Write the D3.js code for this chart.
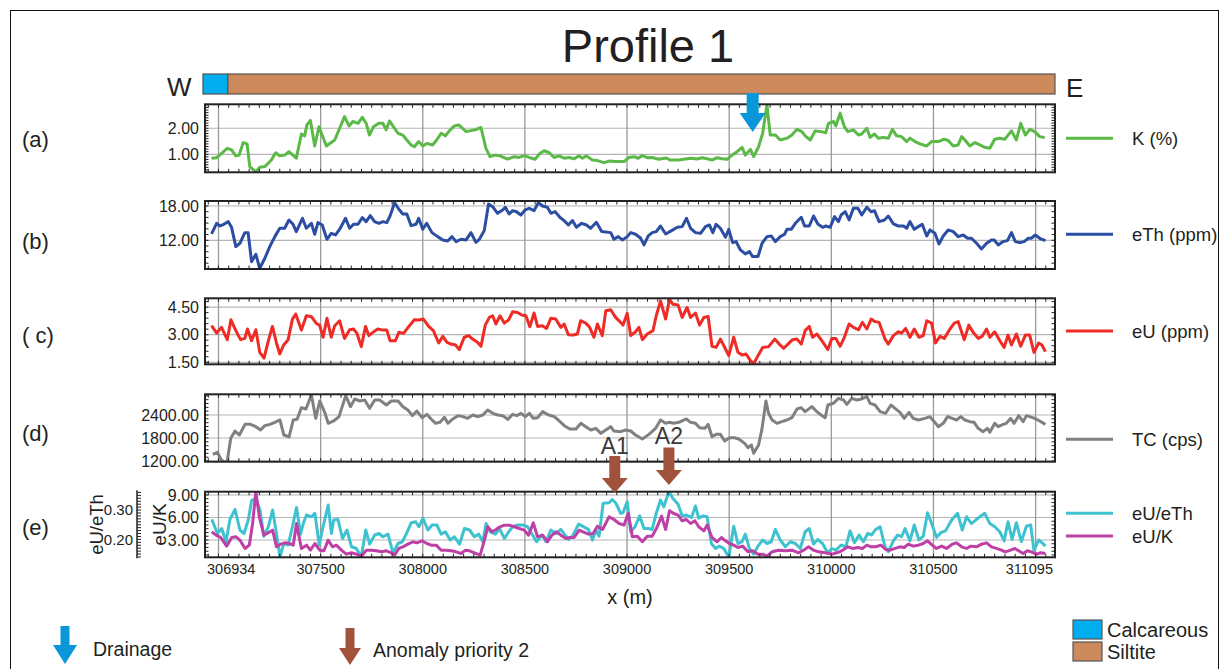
<!DOCTYPE html>
<html><head><meta charset="utf-8">
<script src="https://cdn.jsdelivr.net/npm/d3@7"></script>
<style>body{margin:0;background:#fff}svg{display:block}text{font-family:"Liberation Sans",Arial,sans-serif}</style>
</head><body><svg id="c" width="1226" height="669"></svg>
<script>
// ---------------- DATA ----------------
const titleText = "Profile 1";
const xDomain = [306934, 311095];
const xTickValues = [307000, 307500, 308000, 308500, 309000, 309500, 310000, 310500, 311000];
const xTickLabels = ["306934", "307500", "308000", "308500", "309000", "309500", "310000", "310500", "311095"];
const lithology = [{name: "Calcareous", from: 306924, to: 307046}, {name: "Siltite", from: 307046, to: 311095}];
const anomalies = [{label: "A1", x: 308940}, {label: "A2", x: 309205}];
const drainage = [309615];

const kDomain = [0.31, 2.92], kTicks = [1, 2];
const eThDomain = [6.98, 18.87], eThTicks = [12, 18];
const eUDomain = [1.39, 4.98], eUTicks = [1.5, 3, 4.5];
const tcDomain = [1182, 2940], tcTicks = [1200, 1800, 2400];
const eUKDomain = [0.69, 9.44], eUKTicks = [3, 6, 9];
const eUeThDomain = [0.139, 0.3625], eUeThTicks = [0.2, 0.3];

const kData = [[306966,0.85],[306991,0.87],[307015,1.04],[307043,1.23],[307064,1.17],[307085,0.94],[307101,0.97],[307121,1.45],[307140,1.40],[307153,0.53],[307183,0.33],[307202,0.50],[307227,0.53],[307259,0.78],[307280,1.06],[307300,0.94],[307324,0.97],[307345,1.10],[307381,0.85],[307406,1.78],[307422,1.71],[307433,2.13],[307450,2.30],[307471,1.32],[307492,2.06],[307528,1.32],[307569,1.55],[307590,1.94],[307617,2.45],[307639,2.09],[307658,2.26],[307683,2.19],[307704,2.42],[307723,2.19],[307739,1.74],[307759,2.06],[307785,2.19],[307805,2.19],[307821,1.94],[307837,2.28],[307862,2.00],[307878,1.81],[307902,1.74],[307922,1.55],[307943,1.36],[307959,1.29],[307980,1.49],[308000,1.32],[308019,1.42],[308049,1.36],[308068,1.55],[308090,1.81],[308111,1.71],[308130,1.90],[308155,2.09],[308176,2.13],[308195,2.00],[308212,1.87],[308236,1.91],[308257,1.94],[308285,2.03],[308309,1.23],[308329,0.91],[308355,0.97],[308378,0.94],[308415,0.82],[308448,0.91],[308472,0.88],[308497,0.95],[308521,0.88],[308550,0.81],[308570,1.01],[308594,1.14],[308619,1.06],[308643,0.88],[308667,0.94],[308692,0.85],[308716,0.88],[308741,0.83],[308765,0.94],[308781,0.85],[308801,0.94],[308830,0.78],[308855,0.76],[308887,0.68],[308912,0.74],[308944,0.72],[308985,0.72],[309010,0.88],[309034,0.91],[309055,0.85],[309075,0.95],[309099,0.87],[309123,0.88],[309156,0.81],[309189,0.86],[309213,0.78],[309254,0.78],[309286,0.82],[309311,0.85],[309343,0.82],[309368,0.87],[309392,0.83],[309416,0.78],[309441,0.87],[309465,0.83],[309490,0.81],[309514,0.97],[309539,1.10],[309563,1.27],[309579,0.97],[309604,1.19],[309620,0.91],[309644,1.29],[309664,1.81],[309685,2.90],[309701,1.74],[309726,1.74],[309750,1.55],[309783,1.62],[309807,1.74],[309832,1.96],[309856,1.87],[309872,1.71],[309897,1.55],[309921,1.90],[309950,1.87],[309973,1.83],[309986,2.19],[310011,2.26],[310022,2.09],[310043,2.58],[310064,2.06],[310081,1.87],[310108,1.94],[310133,1.74],[310149,1.78],[310174,2.00],[310190,1.65],[310211,1.78],[310230,1.62],[310255,1.65],[310279,1.62],[310299,1.96],[310320,1.71],[310344,1.68],[310369,1.49],[310385,1.62],[310410,1.49],[310434,1.40],[310467,1.32],[310491,1.49],[310524,1.49],[310553,1.58],[310572,1.53],[310597,1.32],[310621,1.36],[310638,1.68],[310654,1.55],[310678,1.32],[310703,1.45],[310727,1.36],[310751,1.27],[310776,1.23],[310800,1.58],[310825,1.62],[310849,1.58],[310882,1.90],[310906,1.55],[310927,2.19],[310950,1.74],[310971,1.96],[310996,1.87],[311020,1.68],[311045,1.64]];

const eThData = [[306966,13.11],[306991,14.97],[307007,14.5],[307026,14.8],[307048,15.26],[307064,14.27],[307085,10.9],[307105,11.48],[307129,13.34],[307145,13.34],[307162,8.27],[307183,9.56],[307202,7.1],[307227,8.86],[307251,10.9],[307276,12.64],[307300,14.1],[307324,14.1],[307345,15.55],[307365,14.8],[307381,13.52],[307411,15.85],[307430,14.1],[307455,14.97],[307471,13.05],[307487,15.09],[307508,14.68],[307531,12.18],[307552,13.22],[307573,12.93],[307596,14.1],[307622,15.85],[307642,14.1],[307661,14.8],[307683,14.8],[307704,15.96],[307723,15.26],[307743,16.31],[307764,15.26],[307785,14.97],[307805,15.26],[307824,15.09],[307840,16.25],[307862,18.58],[307883,17.42],[307902,16.6],[307922,16.6],[307943,14.56],[307967,14.8],[307980,15.85],[308000,13.92],[308019,14.97],[308045,13.34],[308073,12.64],[308098,12.06],[308122,11.88],[308143,12.64],[308163,11.77],[308187,12.18],[308212,12.06],[308236,13.34],[308260,11.65],[308277,12.18],[308301,13.69],[308322,18.35],[308342,17.88],[308366,16.72],[308391,17.3],[308404,17.77],[308423,16.6],[308440,17.18],[308459,17.0],[308480,16.43],[308501,17.3],[308521,17.59],[308545,17.18],[308566,18.58],[308586,18.0],[308610,17.77],[308627,16.72],[308648,17.01],[308671,16.02],[308692,15.44],[308713,14.68],[308733,15.44],[308752,14.27],[308778,14.97],[308801,14.68],[308822,14.1],[308850,15.15],[308876,13.52],[308920,13.34],[308936,12.18],[308957,12.64],[308977,12.06],[309001,12.64],[309018,13.34],[309042,13.05],[309067,12.35],[309083,11.19],[309104,12.76],[309123,13.34],[309143,13.52],[309164,14.5],[309189,13.11],[309218,13.69],[309246,14.27],[309270,14.39],[309291,15.85],[309311,14.1],[309335,13.34],[309360,13.22],[309384,14.39],[309403,14.68],[309420,13.34],[309436,14.8],[309457,14.1],[309482,12.53],[309498,13.92],[309517,11.59],[309534,11.77],[309555,10.31],[309579,9.61],[309599,10.02],[309615,9.15],[309641,9.15],[309661,11.48],[309685,12.64],[309706,12.76],[309726,11.77],[309750,12.64],[309771,13.05],[309783,13.92],[309804,13.92],[309824,14.97],[309853,16.02],[309869,14.5],[309892,14.5],[309913,16.25],[309934,14.86],[309957,14.27],[309973,14.5],[309994,14.27],[310016,16.14],[310035,15.26],[310048,16.43],[310068,17.0],[310087,15.55],[310108,17.59],[310130,17.59],[310149,16.43],[310174,17.77],[310195,17.0],[310211,17.18],[310234,15.26],[310260,15.55],[310279,16.25],[310304,14.86],[310328,14.5],[310353,14.5],[310369,14.1],[310385,15.26],[310406,13.92],[310426,14.39],[310445,14.8],[310467,12.76],[310483,13.81],[310507,13.22],[310527,11.36],[310548,12.76],[310572,13.81],[310597,13.52],[310621,12.64],[310646,12.93],[310667,12.35],[310686,12.35],[310711,11.48],[310735,10.49],[310760,11.48],[310784,12.06],[310797,12.06],[310817,11.19],[310841,11.77],[310862,11.94],[310882,13.34],[310901,11.77],[310922,11.59],[310944,11.77],[310963,12.35],[310979,12.35],[310999,12.93],[311020,12.35],[311048,11.94]];

const eUData = [[306966,3.49],[306991,3.09],[307015,3.4],[307043,2.73],[307061,3.81],[307085,3.22],[307108,2.73],[307129,2.8],[307142,3.31],[307162,2.67],[307183,3.27],[307202,2.04],[307223,1.73],[307243,2.62],[307264,3.45],[307284,2.55],[307300,1.95],[307319,2.44],[307341,2.73],[307362,3.85],[307378,4.12],[307406,3.25],[307430,4.03],[307455,3.98],[307479,3.61],[307495,3.52],[307512,2.86],[307531,3.89],[307552,2.86],[307569,3.49],[307593,3.76],[307617,2.8],[307642,3.27],[307661,3.31],[307678,3.07],[307699,2.35],[307720,3.45],[307736,2.95],[307756,3.13],[307780,3.31],[307805,3.25],[307824,3.25],[307840,2.67],[307866,2.67],[307883,3.13],[307906,3.07],[307932,3.45],[307959,3.81],[307980,3.8],[308003,3.85],[308029,3.45],[308052,3.22],[308078,2.55],[308098,2.91],[308119,2.58],[308138,2.49],[308160,2.44],[308179,2.19],[308203,2.86],[308225,2.95],[308244,2.76],[308269,2.58],[308285,2.37],[308306,3.52],[308326,3.94],[308342,4.03],[308358,3.58],[308378,4.03],[308399,3.63],[308420,3.8],[308440,4.25],[308464,4.21],[308485,4.07],[308505,4.03],[308524,3.43],[308545,4.18],[308562,3.45],[308586,3.49],[308606,3.34],[308627,3.89],[308651,3.85],[308676,3.4],[308692,3.58],[308713,3.0],[308736,2.98],[308757,3.04],[308773,3.76],[308798,3.63],[308817,3.4],[308838,2.86],[308855,3.58],[308879,2.95],[308896,4.30],[308920,4.36],[308944,3.94],[308969,3.67],[308980,3.52],[309001,4.16],[309018,2.95],[309039,3.13],[309058,3.4],[309075,2.73],[309099,3.04],[309127,3.22],[309143,4.03],[309164,4.84],[309189,3.85],[309208,4.93],[309224,4.66],[309250,4.61],[309270,3.94],[309294,4.48],[309311,3.94],[309335,4.18],[309355,3.52],[309376,3.94],[309397,3.99],[309416,2.37],[309436,2.31],[309457,2.76],[309474,2.4],[309498,1.86],[309522,2.86],[309543,2.04],[309563,1.9],[309583,1.95],[309604,1.59],[309620,1.42],[309641,1.86],[309664,2.31],[309693,2.35],[309723,2.76],[309745,2.49],[309767,2.26],[309788,2.49],[309810,2.73],[309832,2.76],[309853,2.49],[309872,3.22],[309892,3.45],[309908,2.86],[309929,3.04],[309954,2.67],[309983,2.19],[310003,2.8],[310022,2.8],[310043,2.37],[310064,2.86],[310087,3.58],[310108,3.4],[310133,3.27],[310152,3.67],[310174,3.31],[310195,3.85],[310214,3.71],[310234,3.67],[310263,2.76],[310279,2.49],[310304,2.95],[310328,3.16],[310344,3.09],[310364,3.34],[310385,2.86],[310406,3.31],[310429,2.86],[310450,2.95],[310467,3.76],[310491,3.63],[310510,2.55],[310532,2.91],[310553,2.8],[310581,3.31],[310602,3.63],[310621,3.71],[310651,2.73],[310673,3.52],[310694,3.13],[310719,2.8],[310738,2.91],[310760,3.31],[310776,2.86],[310800,3.16],[310825,2.67],[310846,2.31],[310865,2.98],[310882,2.44],[310906,3.04],[310927,2.37],[310950,2.98],[310971,2.98],[310992,2.04],[311015,2.55],[311031,2.44],[311048,2.08]];

const tcData = [[306972,1373],[306995,1426],[307011,1252],[307027,1165],[307043,1199],[307060,1791],[307081,1982],[307102,1878],[307130,2156],[307157,2156],[307183,2095],[307206,2008],[307227,2122],[307252,2156],[307276,2209],[307301,2270],[307320,1878],[307346,1834],[307366,2270],[307385,2287],[307406,2591],[307428,2557],[307455,2922],[307476,2313],[307496,2765],[307520,2470],[307537,2183],[307564,2244],[307590,2357],[307623,2905],[307646,2618],[307667,2818],[307691,2765],[307716,2792],[307740,2574],[307765,2792],[307789,2792],[307822,2661],[307846,2765],[307879,2765],[307903,2618],[307927,2531],[307949,2383],[307971,2504],[307997,2330],[308020,2417],[308041,2296],[308063,2183],[308085,2209],[308106,2339],[308123,2183],[308147,2296],[308172,2383],[308196,2357],[308220,2313],[308245,2400],[308269,2357],[308294,2400],[308318,2531],[308343,2444],[308367,2400],[308391,2383],[308416,2287],[308440,2417],[308460,2383],[308481,2444],[308502,2357],[308522,2444],[308541,2313],[308562,2330],[308587,2487],[308616,2400],[308644,2357],[308668,2244],[308693,2122],[308720,2035],[308750,2035],[308774,2183],[308798,2095],[308823,2008],[308847,2052],[308872,1922],[308896,2008],[308920,2095],[308936,1982],[308969,1965],[308993,2008],[309018,1982],[309042,1878],[309075,1774],[309107,1895],[309140,2052],[309164,2270],[309189,2183],[309205,2209],[309229,2183],[309254,2209],[309290,2296],[309311,2209],[309335,2183],[309355,2070],[309381,2052],[309397,2156],[309416,1834],[309436,1895],[309457,1895],[309478,1721],[309501,1808],[309527,1808],[309547,1774],[309576,1661],[309592,1547],[309609,1617],[309620,1400],[309644,1617],[309661,2052],[309680,2765],[309693,2444],[309710,2270],[309734,2183],[309758,2226],[309783,2270],[309807,2330],[309832,2557],[309853,2591],[309872,2487],[309905,2618],[309929,2487],[309950,2400],[309970,2330],[309983,2661],[310011,2705],[310035,2835],[310060,2792],[310076,2678],[310100,2835],[310125,2792],[310149,2818],[310174,2879],[310190,2705],[310214,2661],[310239,2487],[310266,2444],[310292,2661],[310312,2574],[310336,2470],[310357,2313],[310380,2470],[310401,2313],[310426,2270],[310458,2313],[310483,2357],[310504,2226],[310524,2095],[310548,2183],[310569,2357],[310592,2313],[310613,2270],[310634,2357],[310654,2270],[310678,2226],[310699,2209],[310719,2052],[310743,1965],[310764,2052],[310776,1948],[310800,2183],[310817,2095],[310841,2156],[310857,2183],[310878,2313],[310895,2183],[310917,2383],[310939,2226],[310955,2383],[310971,2357],[310996,2313],[311020,2244],[311048,2156]];

const eUeThData = [[306967,0.268],[306995,0.220],[307016,0.237],[307037,0.192],[307056,0.268],[307081,0.302],[307105,0.232],[307125,0.220],[307146,0.266],[307162,0.332],[307183,0.340],[307203,0.300],[307222,0.211],[307244,0.243],[307265,0.300],[307281,0.232],[307301,0.141],[307320,0.186],[307341,0.181],[307362,0.243],[307382,0.309],[307402,0.218],[307415,0.254],[307431,0.283],[307455,0.277],[307472,0.289],[307493,0.181],[307512,0.243],[307537,0.317],[307553,0.220],[307564,0.266],[307585,0.268],[307607,0.203],[307629,0.232],[307651,0.175],[307675,0.169],[307699,0.141],[307721,0.232],[307740,0.184],[307765,0.215],[307786,0.220],[307805,0.209],[307830,0.218],[307854,0.154],[307879,0.186],[307900,0.192],[307919,0.218],[307944,0.257],[307965,0.260],[307981,0.243],[308001,0.272],[308025,0.232],[308046,0.249],[308069,0.249],[308090,0.218],[308111,0.226],[308134,0.198],[308155,0.209],[308180,0.184],[308204,0.237],[308229,0.232],[308253,0.209],[308274,0.218],[308294,0.192],[308310,0.254],[308330,0.226],[308356,0.218],[308375,0.237],[308400,0.203],[308421,0.226],[308440,0.243],[308465,0.249],[308489,0.249],[308513,0.243],[308538,0.215],[308557,0.192],[308583,0.215],[308603,0.192],[308627,0.232],[308652,0.220],[308676,0.234],[308693,0.218],[308714,0.200],[308733,0.211],[308763,0.252],[308782,0.245],[308811,0.234],[308831,0.198],[308847,0.232],[308863,0.211],[308883,0.323],[308912,0.325],[308928,0.336],[308944,0.325],[308969,0.289],[308980,0.291],[309001,0.328],[309018,0.226],[309039,0.243],[309062,0.280],[309083,0.237],[309104,0.237],[309123,0.234],[309143,0.289],[309164,0.334],[309180,0.311],[309205,0.363],[309224,0.340],[309250,0.320],[309270,0.280],[309290,0.283],[309316,0.275],[309335,0.314],[309351,0.272],[309371,0.280],[309392,0.277],[309413,0.186],[309433,0.169],[309452,0.177],[309474,0.169],[309498,0.139],[309522,0.245],[309543,0.186],[309563,0.192],[309579,0.218],[309599,0.169],[309620,0.150],[309641,0.177],[309664,0.198],[309685,0.186],[309706,0.192],[309726,0.234],[309750,0.198],[309775,0.175],[309799,0.192],[309824,0.186],[309848,0.169],[309872,0.226],[309892,0.237],[309913,0.184],[309934,0.200],[309957,0.186],[309983,0.154],[310003,0.169],[310022,0.163],[310048,0.181],[310071,0.175],[310092,0.229],[310113,0.189],[310136,0.215],[310157,0.192],[310178,0.220],[310198,0.215],[310214,0.232],[310239,0.243],[310263,0.175],[310279,0.158],[310304,0.195],[310325,0.215],[310344,0.209],[310361,0.237],[310385,0.195],[310406,0.249],[310429,0.198],[310450,0.211],[310471,0.291],[310491,0.254],[310515,0.207],[310536,0.223],[310559,0.229],[310589,0.266],[310618,0.289],[310641,0.232],[310662,0.277],[310686,0.254],[310711,0.268],[310732,0.280],[310751,0.289],[310776,0.254],[310800,0.243],[310825,0.226],[310846,0.195],[310865,0.260],[310885,0.200],[310906,0.257],[310930,0.192],[310955,0.245],[310976,0.249],[310992,0.163],[311015,0.198],[311031,0.189],[311048,0.177]];

const eUKData = [[306967,4.09],[306988,3.64],[307011,3.33],[307040,2.18],[307065,3.33],[307086,3.42],[307105,2.98],[307130,1.87],[307151,2.31],[307167,5.2],[307183,9.42],[307200,6.09],[307222,3.64],[307244,3.96],[307265,4.31],[307284,2.09],[307304,2.44],[307325,2.62],[307346,2.53],[307366,2.31],[307382,5.2],[307406,1.87],[307431,2.31],[307450,1.64],[307472,2.53],[307496,1.64],[307516,1.56],[307537,2.98],[307558,2.09],[307577,2.31],[307602,1.64],[307626,1.11],[307651,1.29],[307675,1.11],[307699,0.84],[307724,1.64],[307748,1.64],[307773,1.56],[307797,1.42],[307822,1.56],[307846,1.29],[307862,0.98],[307883,1.87],[307903,2.09],[307927,2.44],[307952,2.76],[307971,2.62],[307997,2.89],[308020,2.53],[308041,2.31],[308066,2.31],[308090,1.64],[308115,1.64],[308139,1.56],[308163,1.42],[308188,1.2],[308209,1.64],[308229,1.56],[308253,1.29],[308281,0.98],[308302,2.98],[308318,4.76],[308339,4.09],[308359,4.4],[308378,4.76],[308400,4.98],[308424,4.98],[308448,4.76],[308473,4.53],[308497,4.31],[308518,3.64],[308541,5.29],[308562,3.42],[308587,3.64],[308611,2.76],[308632,3.64],[308655,4.09],[308676,3.64],[308701,3.2],[308720,3.33],[308741,3.33],[308766,4.31],[308785,4.09],[308811,3.78],[308834,3.87],[308855,4.84],[308880,4.4],[308912,6.09],[308936,5.73],[308961,5.2],[308985,4.98],[309006,6.53],[309026,3.42],[309050,3.51],[309075,2.76],[309099,3.51],[309123,3.51],[309148,4.76],[309169,6.18],[309189,4.4],[309208,6.89],[309229,6.53],[309250,6.31],[309270,5.56],[309290,5.73],[309311,5.2],[309332,5.56],[309351,4.76],[309376,4.22],[309392,4.98],[309416,3.33],[309441,2.76],[309462,3.33],[309482,2.89],[309501,2.53],[309522,2.31],[309543,2.0],[309566,2.18],[309592,1.42],[309615,1.56],[309641,1.11],[309664,1.11],[309685,0.84],[309710,1.42],[309742,1.64],[309775,1.56],[309807,1.64],[309840,1.29],[309864,1.64],[309889,2.09],[309913,1.64],[309937,1.42],[309970,1.29],[310003,1.11],[310027,1.29],[310051,1.56],[310081,2.09],[310104,1.87],[310130,2.0],[310152,1.87],[310174,2.31],[310195,2.09],[310217,2.09],[310243,2.31],[310266,1.73],[310287,1.64],[310312,1.87],[310336,2.09],[310357,2.0],[310377,2.44],[310401,2.18],[310426,2.31],[310450,2.53],[310471,2.89],[310494,2.31],[310515,1.87],[310540,2.18],[310564,1.87],[310592,2.44],[310613,2.62],[310638,2.09],[310662,1.87],[310683,2.18],[310711,2.09],[310735,2.44],[310760,2.62],[310784,2.09],[310808,1.87],[310833,1.64],[310852,1.42],[310878,1.64],[310898,1.87],[310917,1.56],[310939,1.2],[310960,1.56],[310979,1.42],[311004,1.11],[311025,1.29],[311048,1.2]];

// ---------------- STYLE / LAYOUT ----------------
const C = {k:"#5BB947", eTh:"#2B4EA2", eU:"#EE2B25", tc:"#808080", eUeTh:"#3FC2CF", eUK:"#BE3FA6",
  calc:"#00ADEE", silt:"#CD8B5D", drain:"#0A97D9", anom:"#A0523A"};
const lithColors = {Calcareous: C.calc, Siltite: C.silt};
const svg = d3.select("#c");
const x = d3.scaleLinear().domain(xDomain).range([205, 1055]);
const X0 = 205, X1 = 1055;

svg.append("rect").attr("x", 10.5).attr("y", 10.5).attr("width", 1208).attr("height", 720)
  .attr("fill", "none").attr("stroke", "#111").attr("stroke-width", 1);

svg.append("text").attr("x", 648).attr("y", 62).attr("text-anchor", "middle")
  .attr("font-size", 47).attr("fill", "#231f20").text(titleText);
svg.append("text").attr("x", 167).attr("y", 96).attr("font-size", 26).attr("fill", "#231f20").text("W");
svg.append("text").attr("x", 1066).attr("y", 97).attr("font-size", 26).attr("fill", "#231f20").text("E");

// lithology bar
svg.append("g").selectAll("rect").data(lithology).join("rect")
  .attr("x", d => x(d.from)).attr("y", 74).attr("width", d => x(d.to) - x(d.from)).attr("height", 20)
  .attr("fill", d => lithColors[d.name]).attr("stroke", "#555").attr("stroke-width", 1.2);

const panels = [
  {label:"(a)", top:104.3, bottom:172.3, domain:kDomain, ticks:kTicks, minor:0.1,
   series:[{data:kData, color:C.k}], legend:[{text:"K (%)", color:C.k, y:138.3}], ly:139},
  {label:"(b)", top:201, bottom:269, domain:eThDomain, ticks:eThTicks, minor:1,
   series:[{data:eThData, color:C.eTh}], legend:[{text:"eTh (ppm)", color:C.eTh, y:234.3}], ly:241},
  {label:"( c)", top:298.3, bottom:364.3, domain:eUDomain, ticks:eUTicks, minor:0.3,
   series:[{data:eUData, color:C.eU}], legend:[{text:"eU (ppm)", color:C.eU, y:331}], ly:335},
  {label:"(d)", top:394.3, bottom:461.7, domain:tcDomain, ticks:tcTicks, minor:100,
   series:[{data:tcData, color:C.tc}], legend:[{text:"TC (cps)", color:C.tc, y:439.3}], ly:433},
  {label:"(e)", top:491.7, bottom:557.3, domain:eUKDomain, ticks:eUKTicks, minor:0.5,
   series:[{data:eUeThData, color:C.eUeTh, alt:true}, {data:eUKData, color:C.eUK}],
   legend:[{text:"eU/eTh", color:C.eUeTh, y:513.3}, {text:"eU/K", color:C.eUK, y:536}], ly:527}
];

const fmt = d3.format(".2f");
const minorX = d3.range(306950, 311095, 50);

panels.forEach((p, i) => {
  const y = d3.scaleLinear().domain(p.domain).range([p.bottom, p.top]);
  const yAlt = d3.scaleLinear().domain(eUeThDomain).range([p.bottom, p.top]);
  const g = svg.append("g");
  const clipId = "clip" + i;
  svg.append("clipPath").attr("id", clipId).append("rect")
    .attr("x", X0).attr("y", p.top).attr("width", X1 - X0).attr("height", p.bottom - p.top);
  g.append("rect").attr("x", X0).attr("y", p.top).attr("width", X1 - X0).attr("height", p.bottom - p.top).attr("fill", "#fff");
  g.selectAll(".hg").data(p.ticks).join("line")
    .attr("x1", X0).attr("x2", X1).attr("y1", d => y(d)).attr("y2", d => y(d))
    .attr("stroke", "#b5b5b5").attr("stroke-width", 1.2);
  g.selectAll(".vg").data(xTickValues).join("line")
    .attr("x1", d => x(d)).attr("x2", d => x(d)).attr("y1", p.top).attr("y2", p.bottom)
    .attr("stroke", "#9a9a9a").attr("stroke-width", 1.3);
  const lg = g.append("g").attr("clip-path", `url(#${clipId})`);
  p.series.forEach(s => {
    const ys = s.alt ? yAlt : y;
    const line = d3.line().x(d => x(d[0])).y(d => ys(d[1]));
    lg.append("path").datum(s.data).attr("d", line).attr("fill", "none")
      .attr("stroke", s.color).attr("stroke-width", 3).attr("stroke-linejoin", "round");
  });
  g.selectAll(".mt").data(minorX).join("line")
    .attr("x1", d => x(d)).attr("x2", d => x(d)).attr("y1", p.top).attr("y2", p.top + 3.5)
    .attr("stroke", "#222").attr("stroke-width", 1);
  g.selectAll(".mb").data(minorX).join("line")
    .attr("x1", d => x(d)).attr("x2", d => x(d)).attr("y1", p.bottom).attr("y2", p.bottom - 3.5)
    .attr("stroke", "#222").attr("stroke-width", 1);
  const ym = d3.range(Math.ceil(p.domain[0] / p.minor) * p.minor, p.domain[1], p.minor);
  g.selectAll(".ml").data(ym).join("line")
    .attr("x1", X0).attr("x2", X0 + 3.5).attr("y1", d => y(d)).attr("y2", d => y(d))
    .attr("stroke", "#222").attr("stroke-width", 1);
  g.selectAll(".mr").data(ym).join("line")
    .attr("x1", X1).attr("x2", X1 - 3.5).attr("y1", d => y(d)).attr("y2", d => y(d))
    .attr("stroke", "#222").attr("stroke-width", 1);
  g.append("rect").attr("x", X0).attr("y", p.top).attr("width", X1 - X0).attr("height", p.bottom - p.top)
    .attr("fill", "none").attr("stroke", "#222").attr("stroke-width", 2);
  g.selectAll(".yl").data(p.ticks).join("text")
    .attr("x", 199).attr("y", d => y(d)).attr("dy", "0.36em").attr("text-anchor", "end")
    .attr("font-size", 16).attr("fill", "#231f20").text(d => fmt(d));
  svg.append("text").attr("x", 22).attr("y", p.ly).attr("dy", "0.36em")
    .attr("font-size", 22).attr("fill", "#231f20").text(p.label);
  p.legend.forEach(l => {
    svg.append("line").attr("x1", 1066).attr("x2", 1113).attr("y1", l.y).attr("y2", l.y)
      .attr("stroke", l.color).attr("stroke-width", 3);
    svg.append("text").attr("x", 1132).attr("y", l.y).attr("dy", "0.36em")
      .attr("font-size", 18.5).attr("fill", "#231f20").text(l.text);
  });
  if (i === 4) {
    g.selectAll(".xl").data(xTickValues).join("text")
      .attr("x", (d, j) => j === 0 ? X0 + 2 : j === xTickValues.length - 1 ? X1 - 2 : x(d))
      .attr("y", 574)
      .attr("text-anchor", (d, j) => j === 0 ? "start" : j === xTickValues.length - 1 ? "end" : "middle")
      .attr("font-size", 14.5).attr("fill", "#231f20").text((d, j) => xTickLabels[j]);
    svg.append("text").attr("transform", `translate(166,${(p.top + p.bottom) / 2}) rotate(-90)`)
      .attr("text-anchor", "middle").attr("font-size", 19).attr("fill", "#231f20").text("eU/K");
    const ax = 137;
    svg.append("line").attr("x1", ax).attr("x2", ax).attr("y1", p.top - 1.5).attr("y2", p.bottom + 1)
      .attr("stroke", "#222").attr("stroke-width", 1.5);
    const am = d3.range(0.14, 0.3625, 0.01);
    svg.append("g").selectAll("line").data(am).join("line")
      .attr("x1", ax).attr("x2", ax + 4).attr("y1", d => yAlt(d)).attr("y2", d => yAlt(d))
      .attr("stroke", "#222").attr("stroke-width", 1);
    svg.append("g").selectAll("text").data(eUeThTicks).join("text")
      .attr("x", 133).attr("y", d => yAlt(d)).attr("dy", "0.36em").attr("text-anchor", "end")
      .attr("font-size", 15).attr("fill", "#231f20").text(d => fmt(d));
    svg.append("text").attr("transform", `translate(103,${(p.top + p.bottom) / 2}) rotate(-90)`)
      .attr("text-anchor", "middle").attr("font-size", 18.5).attr("fill", "#231f20").text("eU/eTh");
  }
});

svg.append("text").attr("x", 630).attr("y", 604).attr("text-anchor", "middle")
  .attr("font-size", 20).attr("fill", "#231f20").text("x (m)");

function arrowPath(cx, top, tip, sw, hw, hh) {
  const hy = tip - hh;
  return `M${cx - sw / 2},${top}L${cx + sw / 2},${top}L${cx + sw / 2},${hy}L${cx + hw / 2},${hy}L${cx},${tip}L${cx - hw / 2},${hy}L${cx - sw / 2},${hy}Z`;
}
svg.append("g").selectAll("path").data(drainage).join("path")
  .attr("d", d => arrowPath(x(d), 93, 132, 12, 26, 19)).attr("fill", C.drain);
const aTops = [456, 447.5], aTips = [493, 485], aLab = [454, 444];
svg.append("g").selectAll("path").data(anomalies).join("path")
  .attr("d", (d, j) => arrowPath(x(d.x), aTops[j], aTips[j], 11, 26, 15)).attr("fill", C.anom);
svg.append("g").selectAll("text").data(anomalies).join("text")
  .attr("x", d => x(d.x)).attr("y", (d, j) => aLab[j]).attr("text-anchor", "middle")
  .attr("font-size", 23).attr("fill", "#3a3a3a").text(d => d.label);

svg.append("path").attr("d", arrowPath(65, 626, 664, 9, 24, 19)).attr("fill", C.drain);
svg.append("text").attr("x", 93).attr("y", 656).attr("font-size", 19.5).attr("fill", "#231f20").text("Drainage");
svg.append("path").attr("d", arrowPath(350, 628, 665, 9, 22, 17)).attr("fill", C.anom);
svg.append("text").attr("x", 373).attr("y", 657).attr("font-size", 19.5).attr("fill", "#231f20").text("Anomaly priority 2");
svg.append("g").selectAll("rect").data(lithology).join("rect")
  .attr("x", 1073).attr("y", (d, j) => 620 + j * 22).attr("width", 29).attr("height", 19)
  .attr("fill", d => lithColors[d.name]).attr("stroke", "#555").attr("stroke-width", 1.2);
svg.append("g").selectAll("text").data(lithology).join("text")
  .attr("x", 1107).attr("y", (d, j) => 637 + j * 22).attr("font-size", 20).attr("fill", "#231f20").text(d => d.name);
</script></body></html>
